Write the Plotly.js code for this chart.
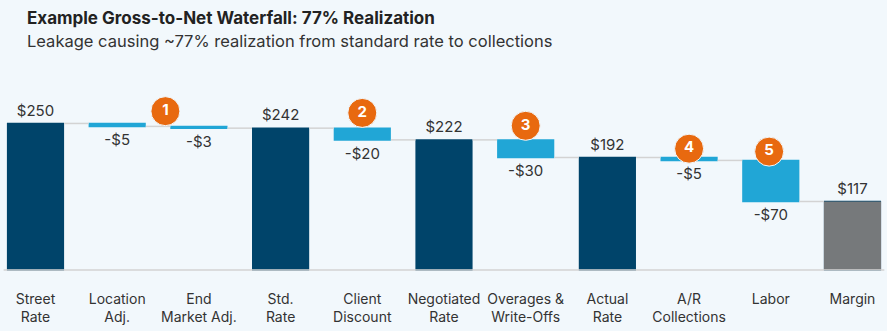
<!DOCTYPE html>
<html>
<head>
<meta charset="utf-8">
<script src="https://cdn.plot.ly/plotly-3.0.1.min.js"></script>
<style>
  html, body { margin: 0; padding: 0; background: #F2F8FC; }
  #chart { width: 887px; height: 331px; }
</style>
</head>
<body>
<div id="chart"></div>
<script>
// ---- Data ----
const categories = ["Street<br>Rate", "Location<br>Adj.", "End<br>Market Adj.", "Std.<br>Rate", "Client<br>Discount",
  "Negotiated<br>Rate", "Overages &<br>Write-Offs", "Actual<br>Rate", "A/R<br>Collections", "Labor", "Margin"];
const measures = ["absolute", "relative", "relative", "total", "relative", "total", "relative", "total", "relative", "relative", "total"];
const values = [250, -5, -3, 0, -20, 0, -30, 0, -5, -70, 0];
const badgeLabels = ["1", "2", "3", "4", "5"];
const badgeX = [1.59, 4, 6, 8, 8.98];
const badgeY = [271, 268, 246, 207, 202];

// ---- Derived ----
const xIdx = categories.map((_, i) => i);
let running = 0;
const labels = values.map((v, i) => {
  if (measures[i] === "absolute") { running = v; return "$" + running; }
  if (measures[i] === "total") { return "$" + running; }
  running += v;
  return (v < 0 ? "-$" : "+$") + Math.abs(v);
});
const marginValue = running;
const lastIdx = categories.length - 1;

const FONT = "Inter, 'Noto Sans', sans-serif";

const waterfall = {
  type: "waterfall",
  x: xIdx,
  y: values,
  measure: measures,
  width: 0.7,
  text: labels,
  textinfo: "text",
  textposition: "outside",
  cliponaxis: false,
  textfont: { family: FONT, size: 15, color: "#333333" },
  totals: { marker: { color: "#00446A" } },
  decreasing: { marker: { color: "#21A6D6" } },
  increasing: { marker: { color: "#21A6D6" } },
  connector: { mode: "between", line: { color: "#D3D3D3", width: 1.5 } },
  hoverinfo: "skip",
  showlegend: false
};

const marginBar = {
  type: "bar",
  x: [lastIdx],
  y: [marginValue],
  width: 0.7,
  marker: { color: "#76797B" },
  hoverinfo: "skip",
  showlegend: false
};

const badges = {
  type: "scatter",
  mode: "markers+text",
  x: badgeX,
  y: badgeY,
  text: badgeLabels,
  textposition: "middle center",
  textfont: { family: FONT, size: 15, color: "#FFFFFF", weight: "bold" },
  marker: { size: 29, color: "#E8690F", line: { color: "#F2F8FC", width: 1 } },
  cliponaxis: false,
  hoverinfo: "skip",
  showlegend: false
};

const layout = {
  width: 887,
  height: 331,
  margin: { l: 0, r: 0, t: 100, b: 60 },
  paper_bgcolor: "#F2F8FC",
  plot_bgcolor: "#F2F8FC",
  font: { family: FONT, color: "#333333" },
  xaxis: {
    range: [-0.4345, 10.4225],
    tickvals: xIdx,
    ticktext: categories,
    showgrid: false,
    zeroline: false,
    showline: false,
    ticks: "",
    ticklabelstandoff: 18,
    tickfont: { family: FONT, size: 14, color: "#333333" },
    fixedrange: true
  },
  yaxis: {
    range: [-1.5, 290],
    showticklabels: false,
    showgrid: false,
    zeroline: false,
    ticks: "",
    fixedrange: true
  },
  shapes: [
    {
      type: "line", layer: "above",
      xref: "x", yref: "y",
      x0: -0.39, x1: lastIdx + 0.39, y0: 0, y1: 0,
      line: { color: "#D3D3D3", width: 1.5 }
    }
  ],
  annotations: [
    {
      text: "<b>Example Gross-to-Net Waterfall: 77% Realization</b>",
      xref: "paper", yref: "paper", x: 25 / 887, y: 1 + (100 - 6) / 171,
      xanchor: "left", yanchor: "top", showarrow: false,
      font: { family: FONT, size: 17, color: "#222222" }
    },
    {
      text: "Leakage causing ~77% realization from standard rate to collections",
      xref: "paper", yref: "paper", x: 25 / 887, y: 1 + (100 - 29) / 171,
      xanchor: "left", yanchor: "top", showarrow: false,
      font: { family: FONT, size: 16.5, color: "#333333" }
    }
  ]
};

Plotly.newPlot("chart", [waterfall, marginBar, badges], layout, { displayModeBar: false, staticPlot: true });
</script>
</body>
</html>
